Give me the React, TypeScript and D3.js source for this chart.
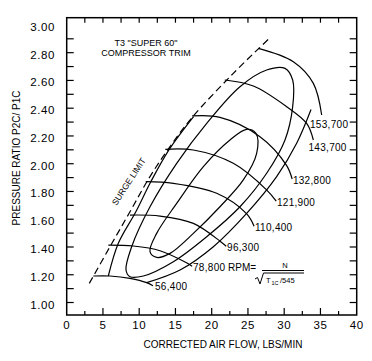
import React, { useEffect, useRef } from "react";
import * as d3 from "d3";

// axis ticks
const xLabels = [0, 5, 10, 15, 20, 25, 30, 35, 40];
const yLabels = [1.0, 1.2, 1.4, 1.6, 1.8, 2.0, 2.2, 2.4, 2.6, 2.8, 3.0];

// surge limit (flow, pressure ratio)
const surge: [number, number][] = [
  [3.12, 1.138], [5.97, 1.402], [8.73, 1.654], [11.4, 1.9], [14.2, 2.12],
  [17.24, 2.33], [22.98, 2.651], [27.81, 2.896],
];
const surgeLabelAt: [number, number] = [8.9, 1.86];

// constant speed lines
const speedNames = ["56,400", "78,800", "96,300", "110,400", "121,900", "132,800", "143,700", "153,700"];
const speedLines: [number, number][][] = [
  [[3.67, 1.191], [5.97, 1.191], [8.73, 1.174], [11.03, 1.143], [11.9, 1.12]],
  [[5.74, 1.414], [9.19, 1.407], [12.87, 1.373], [16.4, 1.29], [17.3, 1.262]],
  [[8.73, 1.63], [12.87, 1.623], [17.47, 1.57], [21.2, 1.44], [22.0, 1.405]],
  [[10.9, 1.871], [14.71, 1.859], [20.69, 1.787], [24.8, 1.64], [25.85, 1.55]],
  [[13.6, 2.104], [17.47, 2.099], [22.98, 2.003], [27.6, 1.81], [28.9, 1.73]],
  [[17.3, 2.344], [21.14, 2.334], [26.66, 2.195], [30.3, 1.99], [31.1, 1.89]],
  [[21.8, 2.603], [25.74, 2.56], [30.34, 2.411], [33.1, 2.29], [34.02, 2.171]],
  [[26.43, 2.831], [31.26, 2.735], [34.02, 2.579], [35.17, 2.351]],
];
const speedLabelAt: [number, number][] = [
  [12.18, 1.119], [17.42, 1.256], [22.12, 1.4], [25.97, 1.544],
  [29.0, 1.724], [31.2, 1.883], [33.35, 2.12], [33.56, 2.286],
];

// efficiency islands
const innerIsland: [number, number][] = [
  [11.49, 1.366], [12.41, 1.498], [15.17, 1.714], [18.85, 1.979], [22.52, 2.171],
  [24.82, 2.248], [26.11, 2.219], [26.2, 2.075], [24.36, 1.883], [21.14, 1.69],
  [17.47, 1.498], [14.25, 1.354], [12.41, 1.325],
];
const midIsland: [number, number][] = [
  [8.18, 1.234], [8.96, 1.402], [11.49, 1.69], [15.17, 2.003], [19.31, 2.291],
  [23.9, 2.555], [27.58, 2.675], [30.11, 2.687], [31.17, 2.603], [31.17, 2.411],
  [30.11, 2.171], [27.58, 1.931], [23.9, 1.69], [19.31, 1.474], [14.71, 1.294],
  [10.57, 1.191], [8.73, 1.186],
];
const outerLeft: [number, number][] = [
  [5.74, 1.191], [7.12, 1.427], [9.5, 1.65], [11.6, 1.87], [14.1, 2.1], [17.5, 2.34],
];
const outerRight: [number, number][] = [
  [11.03, 1.143], [15.63, 1.234], [20.23, 1.402], [24.82, 1.642], [28.96, 1.907],
  [31.72, 2.147], [33.7, 2.39],
];

const W = 372;
const H = 361;

export default function App() {
  const svgRef = useRef<SVGSVGElement>(null);

  useEffect(() => {
    const svg = d3.select(svgRef.current);
    svg.selectAll("*").remove();

    const x = d3.scaleLinear().domain([0, 40]).range([66.7, 356.7]);
    const y = d3.scaleLinear().domain([0.91, 3.052]).range([315, 17.7]);
    const font = "Liberation Sans, Arial, sans-serif";

    // frame
    svg.append("rect")
      .attr("x", x(0)).attr("y", y(3.052))
      .attr("width", x(40) - x(0)).attr("height", y(0.91) - y(3.052))
      .attr("fill", "none").attr("stroke", "#000").attr("stroke-width", 1.5);

    // x ticks, bottom and top
    const xt = d3.range(2.5, 40, 2.5);
    svg.append("g").selectAll("line").data(xt).join("line")
      .attr("x1", (d) => x(d)).attr("x2", (d) => x(d))
      .attr("y1", y(0.91)).attr("y2", (d) => y(0.91) - (d % 5 === 0 ? 7 : 4))
      .attr("stroke", "#000").attr("stroke-width", 1.2);
    svg.append("g").selectAll("line").data(xt).join("line")
      .attr("x1", (d) => x(d)).attr("x2", (d) => x(d))
      .attr("y1", y(3.052)).attr("y2", y(3.052) + 5)
      .attr("stroke", "#000").attr("stroke-width", 1.2);

    // y ticks, left and right
    const yt = d3.range(10, 30).map((v) => v / 10);
    svg.append("g").selectAll("line").data(yt).join("line")
      .attr("x1", x(0)).attr("x2", x(0) + 7)
      .attr("y1", (d) => y(d)).attr("y2", (d) => y(d))
      .attr("stroke", "#000").attr("stroke-width", 1.2);
    svg.append("g").selectAll("line").data(yt).join("line")
      .attr("x1", x(40)).attr("x2", x(40) - 7)
      .attr("y1", (d) => y(d)).attr("y2", (d) => y(d))
      .attr("stroke", "#000").attr("stroke-width", 1.2);

    // tick labels
    svg.append("g").selectAll("text").data(xLabels).join("text")
      .attr("x", (d) => x(d)).attr("y", 329)
      .attr("text-anchor", "middle")
      .attr("font-family", font).attr("font-size", 11.5)
      .attr("letter-spacing", 0.6)
      .text((d) => d);
    svg.append("g").selectAll("text").data(yLabels).join("text")
      .attr("x", 55).attr("y", (d) => y(d) + 6)
      .attr("text-anchor", "end")
      .attr("font-family", font).attr("font-size", 11.5)
      .attr("letter-spacing", 0.6)
      .text((d) => d.toFixed(2));

    // axis titles
    svg.append("text")
      .attr("x", 223).attr("y", 347.5).attr("text-anchor", "middle")
      .attr("font-family", font).attr("font-size", 10)
      .text("CORRECTED AIR FLOW, LBS/MIN");
    svg.append("text")
      .attr("transform", "translate(19.5,158) rotate(-90)")
      .attr("text-anchor", "middle")
      .attr("font-family", font).attr("font-size", 10)
      .text("PRESSURE RATIO P2C/ P1C");

    // chart title
    const title = svg.append("text").attr("font-family", font).attr("font-size", 9)
      .attr("text-anchor", "middle");
    title.append("tspan").attr("x", 146).attr("y", 46).text('T3 "SUPER 60"');
    title.append("tspan").attr("x", 146).attr("y", 56).text("COMPRESSOR TRIM");

    const line = d3.line<[number, number]>()
      .x((d) => x(d[0])).y((d) => y(d[1]))
      .curve(d3.curveCatmullRom);
    const closed = d3.line<[number, number]>()
      .x((d) => x(d[0])).y((d) => y(d[1]))
      .curve(d3.curveCatmullRomClosed);

    const plot = svg.append("g").attr("fill", "none").attr("stroke", "#000").attr("stroke-width", 1.2);

    // surge limit
    plot.append("path").attr("d", line(surge)).attr("stroke-dasharray", "7,4");

    // efficiency contours
    plot.append("path").attr("d", closed(innerIsland));
    plot.append("path").attr("d", closed(midIsland));
    plot.append("path").attr("d", line(outerLeft));
    plot.append("path").attr("d", line(outerRight));

    // speed lines
    plot.selectAll("path.speed").data(speedLines).join("path")
      .attr("class", "speed").attr("d", (d) => line(d));

    svg.append("g").selectAll("text").data(speedLabelAt).join("text")
      .attr("x", (d) => x(d[0]))
      .attr("y", (d) => y(d[1]) + 3.6)
      .attr("font-family", font).attr("font-size", 10)
      .attr("letter-spacing", 0.3)
      .text((d, i) => speedNames[i]);

    // surge label
    svg.append("text")
      .attr("transform", `translate(${x(surgeLabelAt[0])},${y(surgeLabelAt[1])}) rotate(-57)`)
      .attr("text-anchor", "middle")
      .attr("font-family", font).attr("font-size", 8.5)
      .text("SURGE  LIMIT");

    // corrected speed formula
    const f = svg.append("g").attr("font-family", font);
    f.append("text").attr("x", 228).attr("y", 271).attr("font-size", 10).text("RPM=");
    f.append("text").attr("x", 285).attr("y", 268).attr("font-size", 7.5)
      .attr("text-anchor", "middle").text("N");
    f.append("line").attr("x1", 262).attr("x2", 304).attr("y1", 270.5).attr("y2", 270.5)
      .attr("stroke", "#000").attr("stroke-width", 1);
    f.append("path").attr("d", "M255,279 L257.5,277.5 L260,284 L263.5,273 L304,273")
      .attr("fill", "none").attr("stroke", "#000").attr("stroke-width", 1);
    f.append("text").attr("x", 266).attr("y", 283).attr("font-size", 7.5).text("T");
    f.append("text").attr("x", 271.5).attr("y", 285).attr("font-size", 5.5).text("1C");
    f.append("text").attr("x", 280).attr("y", 283).attr("font-size", 7.5).text("/545");
  }, []);

  return (
    <svg
      ref={svgRef}
      width={W}
      height={H}
      style={{ position: "absolute", left: 0, top: 0, background: "#fff" }}
    />
  );
}
